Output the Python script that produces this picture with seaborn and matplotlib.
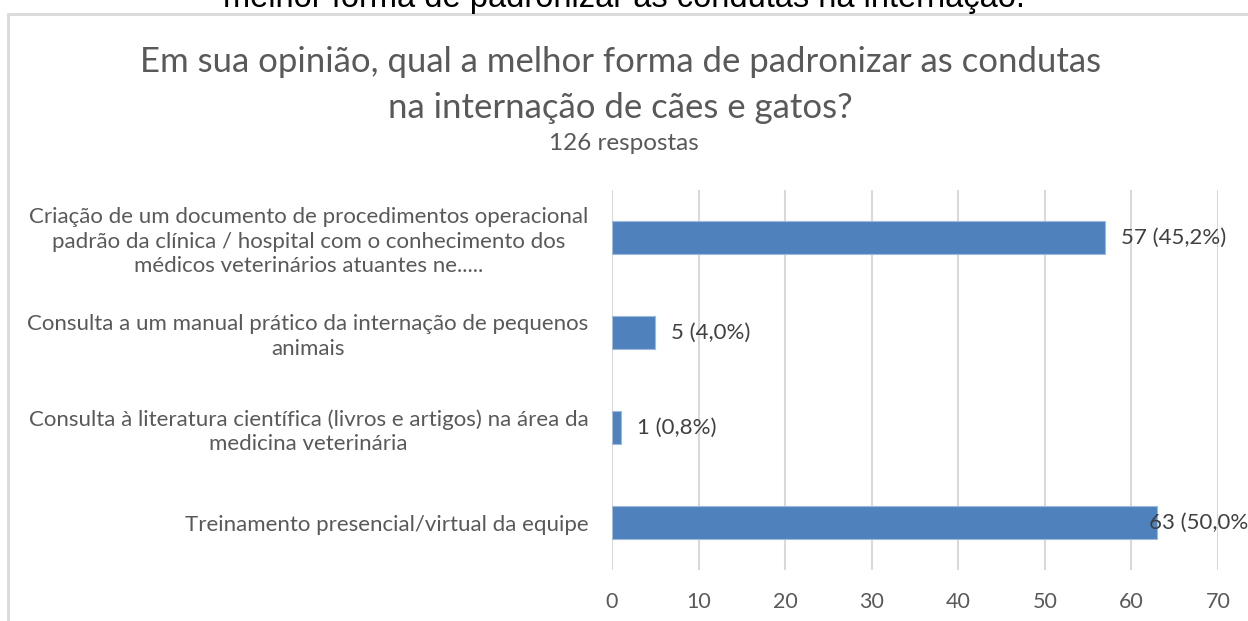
import matplotlib
matplotlib.use("Agg")
import matplotlib.pyplot as plt
import seaborn as sns
import pandas as pd
from matplotlib.patches import Rectangle

# data
categories = [
    "Criação de um documento de procedimentos operacional\npadrão da clínica / hospital com o conhecimento dos\nmédicos veterinários atuantes ne.....",
    "Consulta a um manual prático da internação de pequenos\nanimais",
    "Consulta à literatura científica (livros e artigos) na área da\nmedicina veterinária",
    "Treinamento presencial/virtual da equipe",
]
counts = [57, 5, 1, 63]
pct_labels = ["57 (45,2%)", "5 (4,0%)", "1 (0,8%)", "63 (50,0%)"]
x_ticks = [0, 10, 20, 30, 40, 50, 60, 70]

title = "Em sua opinião, qual a melhor forma de padronizar as condutas\nna internação de cães e gatos?"
subtitle = "126 respostas"
top_text = "melhor forma de padronizar as condutas na internação."

df = pd.DataFrame({"categoria": categories, "n": counts})

sns.set_theme(style="white")
plt.rcParams["font.family"] = ["Lato", "DejaVu Sans"]

gray = "#595959"
grid = "#D9D9D9"
blue = "#4F81BD"

fig = plt.figure(figsize=(12.48, 6.21), dpi=100)
ax = fig.add_axes([0.4904, 0.0821, 0.4856, 0.612])

sns.barplot(data=df, y="categoria", x="n", orient="h", color=blue,
            width=0.35, saturation=1, edgecolor="#9DB9DD", linewidth=0.8, ax=ax)

ax.set_xlim(0, 70)
ax.set_ylim(3.5, -0.5)
ax.set_xticks(x_ticks)
ax.set_xticklabels([str(t) for t in x_ticks], fontsize=15.5, color=gray)
ax.set_xlabel("")
ax.set_ylabel("")
ax.tick_params(axis="x", length=0, pad=16)
ax.tick_params(axis="y", length=0, pad=17)
for lbl in ax.get_yticklabels():
    lbl.set_fontsize(16)
    lbl.set_color(gray)
    lbl.set_multialignment("center")
    lbl.set_linespacing(1.27)
ax.grid(axis="x", color=grid, linewidth=1.5)
ax.grid(axis="y", visible=False)
ax.set_axisbelow(True)
for s in ax.spines.values():
    s.set_visible(False)

for i, (v, t) in enumerate(zip(counts, pct_labels)):
    off = -8 if v > 60 else 16
    ax.annotate(t, xy=(v, i), xytext=(off, 0), textcoords="offset pixels",
                va="center", ha="left", fontsize=16, color="#404040",
                annotation_clip=False)

# chart frame (left and top borders visible)
fig.patches.append(Rectangle((8 / 1248, -0.1), 1.2, 1 - 14 / 621 + 0.1,
                             transform=fig.transFigure, fill=False,
                             edgecolor=grid, linewidth=2))

fig.text(0.497, 1 - 85 / 621, title, ha="center", va="center", fontsize=25,
         color=gray, linespacing=1.55)
fig.text(0.5, 1 - 143 / 621, subtitle, ha="center", va="center",
         fontsize=17.5, color=gray)
fig.text(0.5, 1 - 7 / 621, top_text, ha="center", va="baseline",
         fontsize=23.5, color="black", family=["Liberation Sans", "DejaVu Sans"])

fig.savefig("out.png", dpi=100, facecolor="white")
